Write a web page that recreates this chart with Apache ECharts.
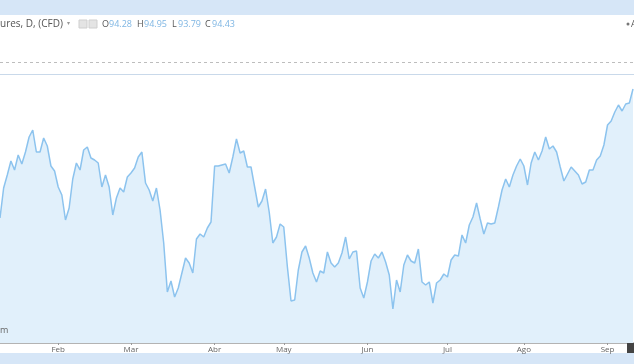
<!DOCTYPE html>
<html>
<head>
<meta charset="utf-8">
<script src="https://cdn.jsdelivr.net/npm/echarts@6/dist/echarts.min.js"></script>
<style>
html,body{margin:0;padding:0;background:#fff;}
#chart{width:634px;height:364px;}
</style>
</head>
<body>
<div id="chart"></div>
<script>
// Daily closes (Jan .. Sep)
const closes = [
91.85,92.45,92.71,92.99,92.81,93.11,92.93,93.17,93.47,93.61,
93.17,93.17,93.45,93.29,92.89,92.79,92.47,92.31,91.81,92.05,
92.63,92.95,92.81,93.21,93.27,93.05,93.01,92.95,92.47,92.71,
92.47,91.91,92.25,92.45,92.37,92.67,92.75,92.85,93.07,93.17,
92.55,92.41,92.19,92.45,92.01,91.35,90.37,90.59,90.27,90.45,
90.75,91.05,90.95,90.75,91.43,91.53,91.47,91.65,91.77,92.89,
92.89,92.91,92.93,92.75,93.07,93.43,93.15,93.19,92.87,92.87,
92.47,92.07,92.19,92.43,91.97,91.35,91.47,91.73,91.67,90.87,
90.19,90.21,90.81,91.17,91.29,91.05,90.75,90.57,90.79,90.75,
91.17,90.95,90.87,90.95,91.15,91.47,91.03,91.17,91.19,90.45,
90.25,90.57,90.99,91.13,91.05,91.17,90.97,90.71,90.03,90.61,
90.37,90.91,91.11,90.99,90.95,91.23,90.57,90.51,90.57,90.15,
90.55,90.61,90.73,90.67,91.01,91.11,91.09,91.51,91.35,91.71,
91.87,92.15,91.83,91.53,91.75,91.73,91.75,92.07,92.41,92.63,
92.47,92.71,92.89,93.03,92.89,92.51,92.95,93.17,93.01,93.19,
93.47,93.23,93.29,93.17,92.87,92.59,92.73,92.87,92.79,92.71,
92.53,92.57,92.81,92.81,93.01,93.09,93.31,93.71,93.79,93.97,
94.11,93.99,94.13,94.15,94.43
];
const monthLabels = ['Feb','Mar','Abr','May','Jun','Jul','Ago','Sep'];
const monthStartIdx = [16,36,59,78,101,123,144,167];
const ohlc = {O:'94.28', H:'94.95', L:'93.79', C:'94.43'};
const headerTitle = 'ures, D, (CFD)';

const categories = closes.map((v,i)=>{
  const k = monthStartIdx.indexOf(i);
  return k >= 0 ? monthLabels[k] : '';
});
const isMonth = (i)=> monthStartIdx.indexOf(i) >= 0;

const chart = echarts.init(document.getElementById('chart'), null, {renderer:'canvas'});
const FONT = '"Open Sans", "DejaVu Sans", sans-serif';
const lblCol = '#7fb6e3';
const keyCol = '#555';

const graphics = [
  {type:'rect', shape:{x:0,y:0,width:634,height:15}, style:{fill:'#d6e6f7'}, z:0},
  {type:'rect', shape:{x:0,y:353,width:634,height:11}, style:{fill:'#d6e6f7'}, z:0},
  {type:'line', shape:{x1:0,y1:62.5,x2:634,y2:62.5}, style:{stroke:'#bdbdbd', lineWidth:1, lineDash:[3,3]}},
  {type:'line', shape:{x1:0,y1:74.5,x2:634,y2:74.5}, style:{stroke:'#c9d9ea', lineWidth:1}},
  {type:'text', x:0, y:24, style:{text:headerTitle, fill:keyCol, font:'10px '+FONT, verticalAlign:'middle'}},
  {type:'text', x:67, y:23, style:{text:'▾', fill:'#999', font:'6px '+FONT, verticalAlign:'middle'}},
  {type:'rect', shape:{x:79,y:20,width:8,height:8}, style:{fill:'#e4e4e4', stroke:'#cfcfcf', lineWidth:1}},
  {type:'rect', shape:{x:89,y:20,width:8,height:8}, style:{fill:'#e4e4e4', stroke:'#cfcfcf', lineWidth:1}},
  {type:'text', x:102, y:24, style:{text:'O', fill:keyCol, font:'9px '+FONT, verticalAlign:'middle'}},
  {type:'text', x:109, y:24, style:{text:ohlc.O, fill:lblCol, font:'9px '+FONT, verticalAlign:'middle'}},
  {type:'text', x:137, y:24, style:{text:'H', fill:keyCol, font:'9px '+FONT, verticalAlign:'middle'}},
  {type:'text', x:144, y:24, style:{text:ohlc.H, fill:lblCol, font:'9px '+FONT, verticalAlign:'middle'}},
  {type:'text', x:172, y:24, style:{text:'L', fill:keyCol, font:'9px '+FONT, verticalAlign:'middle'}},
  {type:'text', x:178, y:24, style:{text:ohlc.L, fill:lblCol, font:'9px '+FONT, verticalAlign:'middle'}},
  {type:'text', x:205, y:24, style:{text:'C', fill:keyCol, font:'9px '+FONT, verticalAlign:'middle'}},
  {type:'text', x:212, y:24, style:{text:ohlc.C, fill:lblCol, font:'9px '+FONT, verticalAlign:'middle'}},
  {type:'circle', shape:{cx:628,cy:24,r:1.5}, style:{fill:'#777'}},
  {type:'text', x:631, y:24, style:{text:'A', fill:keyCol, font:'9px '+FONT, verticalAlign:'middle'}},
  {type:'text', x:0, y:330, style:{text:'m', fill:'#666', font:'9px '+FONT, verticalAlign:'middle'}, z:10},
  {type:'rect', shape:{x:627,y:343,width:7,height:10}, style:{fill:'#444'}, z:10}
];

chart.setOption({
  animation:false,
  backgroundColor:'#ffffff',
  grid:{left:0, right:1, top:75, bottom:21, containLabel:false},
  xAxis:{
    type:'category', data:categories, boundaryGap:false,
    axisLine:{show:true, lineStyle:{color:'#b3b3b3', width:2}},
    axisTick:{show:true, interval:(i)=>isMonth(i), length:2, inside:false, lineStyle:{color:'#999'}},
    axisLabel:{show:true, interval:(i)=>isMonth(i), color:'#666', fontSize:8, margin:3, fontFamily:FONT},
    splitLine:{show:false}
  },
  yAxis:{
    type:'value', min:89.35, max:94.71, show:false, splitLine:{show:false}
  },
  series:[{
    type:'line', data:closes, symbol:'none', smooth:false,
    lineStyle:{color:'#8cc3ee', width:1.5},
    areaStyle:{color:'#e1f0fb', origin:'start', opacity:1}
  }],
  graphic:graphics
});
</script>
</body>
</html>
